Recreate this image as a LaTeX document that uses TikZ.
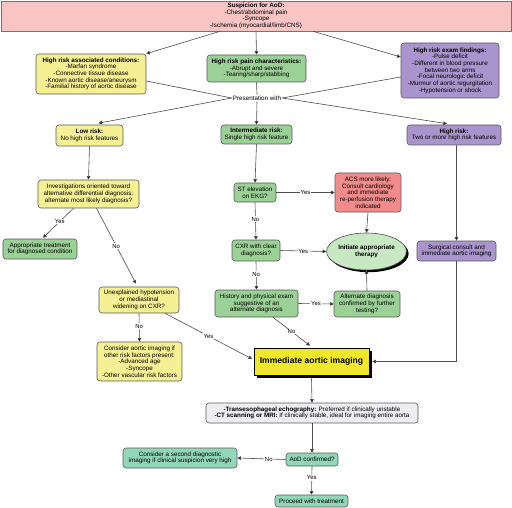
\documentclass[tikz,border=0pt]{standalone}
\usepackage{fontspec}
\setmainfont{Liberation Sans}
\usetikzlibrary{arrows.meta,shapes.geometric,shadows,calc}
\definecolor{cpink}{RGB}{249,196,196}
\definecolor{cyel}{RGB}{245,240,148}
\definecolor{cgrn}{RGB}{155,208,150}
\definecolor{cpur}{RGB}{170,148,205}
\definecolor{cred}{RGB}{242,140,140}
\definecolor{cell}{RGB}{200,232,196}
\definecolor{cimm}{RGB}{240,232,40}
\definecolor{ctee}{RGB}{238,238,242}
\definecolor{cteal}{RGB}{145,214,182}
\begin{document}
\begin{tikzpicture}[x=1bp,y=-1bp,
  every node/.style={font=\fontsize{6.3}{6.7}\selectfont, align=center},
  box/.style={draw=black!65, line width=0.6bp, rounded corners=3bp, inner sep=1bp},
  yel/.style={box, fill=cyel},
  grn/.style={box, fill=cgrn},
  pur/.style={box, fill=cpur},
  teal/.style={box, fill=cteal},
  conn/.style={draw=black!70, line width=0.6bp},
  arr/.style={conn, -{Triangle[length=3.6bp,width=3.6bp,fill=black]}},
  lbl/.style={fill=white, inner sep=0.8bp, font=\fontsize{6}{6.5}\selectfont}
]
\useasboundingbox (0,0) rectangle (512,508);
\node[draw=black!55, line width=0.6bp, fill=cpink, minimum width=510bp, minimum height=30bp, inner sep=0] (top) at (256,16)
  {\textbf{Suspicion for AoD:}\\-Chest/abdominal pain\\-Syncope\\-Ischemia (myocardial/limb/CNS)};
\node[yel, minimum width=110bp, minimum height=40bp] (hrac) at (91,74)
  {\textbf{High risk associated conditions:}\\-Marfan syndrome\\-Connective tissue disease\\-Known aortic disease/aneurysm\\-Familial history of aortic disease};
\node[grn, minimum width=99bp, minimum height=27bp] (hrpc) at (256.5,68.5)
  {\textbf{High risk pain characteristics:}\\-Abrupt and severe\\-Tearing/sharp/stabbing};
\node[pur, minimum width=98bp, minimum height=55bp] (href) at (450,70.5)
  {\textbf{High risk exam findings:}\\-Pulse deficit\\-Different in blood pressure\\between two arms\\-Focal neurologic deficit\\-Murmur of aortic regurgitation\\-Hypotension or shock};
\node[fill=white, inner sep=1bp] (pres) at (257,98) {Presentation with};
\node[yel, minimum width=67bp, minimum height=21bp] (low) at (89.5,135.5) {\textbf{Low risk:}\\No high risk features};
\node[grn, minimum width=71bp, minimum height=19bp] (inter) at (256.5,134.5) {\textbf{Intermediate risk:}\\Single high risk feature};
\node[pur, minimum width=94bp, minimum height=20bp] (high) at (454,135) {\textbf{High risk:}\\Two or more high risk features};
\node[yel, minimum width=101bp, minimum height=28bp] (inv) at (88.5,194)
  {Investigations oriented toward\\alternative differential diagnosis:\\alternate most likely diagnosis?};
\node[grn, minimum width=74bp, minimum height=20bp] (appr) at (40,249) {Appropriate treatment\\for diagnosed condition};
\node[grn, minimum width=42bp, minimum height=19bp] (st) at (255,192.5) {ST elevation\\on EKG?};
\node[box, fill=cred, minimum width=66bp, minimum height=39bp] (acs) at (368,192.5)
  {ACS more likely:\\Consult cardiology\\and immediate\\re-perfusion therapy\\indicated};
\node[grn, minimum width=48bp, minimum height=21bp] (cxr) at (256,250.5) {CXR with clear\\diagnosis?};
\node[ellipse, draw=black!70, line width=0.6bp, fill=cell, minimum width=73bp, minimum height=37bp, inner sep=0,
  drop shadow={fill=black, opacity=1, shadow xshift=2.2bp, shadow yshift=-2.2bp}] (ell) at (366.5,251.5)
  {\textbf{Initiate appropriate}\\\textbf{therapy}};
\node[pur, minimum width=79bp, minimum height=20bp] (surg) at (456.5,251) {Surgical consult and\\immediate aortic imaging};
\node[yel, minimum width=80bp, minimum height=26bp] (unexp) at (139,300) {Unexplained hypotension\\or mediastinal\\widening on CXR?};
\node[yel, minimum width=85bp, minimum height=39bp] (consider) at (139.5,361.5)
  {Consider aortic imaging if\\other risk factors present:\\-Advanced age\\-Syncope\\-Other vascular risk factors};
\node[grn, minimum width=83bp, minimum height=27bp] (hist) at (256.5,303.5) {History and physical exam\\suggestive of an\\alternate diagnosis};
\node[grn, minimum width=66bp, minimum height=26bp] (altd) at (367,304) {Alternate diagnosis\\confirmed by further\\testing?};
\node[draw=black, line width=0.7bp, fill=cimm, minimum width=115bp, minimum height=27bp, inner sep=0,
  font=\fontsize{8.6}{9}\selectfont\bfseries,
  drop shadow={fill=black, opacity=1, shadow xshift=3bp, shadow yshift=-3bp}] (imm) at (311.5,361.5) {Immediate aortic imaging};
\node[box, fill=ctee, minimum width=212bp, minimum height=20bp] (tee) at (312,413)
  {\textbf{-Transesophageal echography:} Preferred if clinically unstable\\\textbf{-CT scanning or MRI:} If clinically stable, ideal for imaging entire aorta};
\node[teal, minimum width=52bp, minimum height=13bp] (aod) at (312,459.5) {AoD confirmed?};
\node[teal, minimum width=114bp, minimum height=20bp] (second) at (180,458) {Consider a second diagnostic\\imaging if clinical suspicion very high};
\node[teal, minimum width=73bp, minimum height=12bp] (proc) at (311.5,501) {Proceed with treatment};
% connectors top
\draw[arr] ([xshift=-36bp]top.south) -- (hrac.north east);
\draw[arr] (top.south) -- (hrpc.north);
\draw[arr] ([xshift=57bp]top.south) -- ([yshift=13.5bp]href.west);
\draw[conn] ([yshift=-7bp]hrac.east) -- (pres.west);
\draw[conn] ([yshift=-6.5bp]href.west) -- (pres.east);
\draw[conn] (hrpc.south) -- (pres.north);
\draw[arr] (pres.west) -- ([xshift=9bp,yshift=1.5bp]low.north);
\draw[arr] (pres.south) -- (inter.north);
\draw[arr] (pres.east) -- ([xshift=-7bp,yshift=1bp]high.north);
% left column
\draw[arr] (low.south) -- (inv.north);
\draw[arr] ([xshift=-15bp]inv.south) -- node[lbl, pos=0.45] {Yes} ([xshift=3bp,yshift=1bp]appr.north);
\draw[arr] ([xshift=8bp]inv.south) -- node[lbl, pos=0.5] {No} ([xshift=-3bp,yshift=3bp]unexp.north);
\draw[arr] (unexp.south) -- node[lbl, pos=0.45] {No} (consider.north);
\draw[arr] ([xshift=26bp]unexp.south) -- node[lbl, pos=0.5] {Yes} ([xshift=-1.5bp,yshift=2.5bp]imm.west);
% middle column
\draw[arr] (inter.south) -- (st.north);
\draw[arr] (st.east) -- node[lbl] {Yes} (acs.west);
\draw[arr] (st.south) -- node[lbl, pos=0.45] {No} (cxr.north);
\draw[arr] (acs.south) -- (ell.north);
\draw[arr] (cxr.east) -- node[lbl, pos=0.5] {Yes} (ell.west);
\draw[arr] (cxr.south) -- node[lbl, pos=0.45] {No} (hist.north);
\draw[arr] (hist.east) -- node[lbl] {Yes} (altd.west);
\draw[arr] (altd.north) -- (ell.south);
\draw[arr] ([xshift=16.5bp]hist.south) -- node[lbl] {No} ([xshift=-1.5bp,yshift=2bp]imm.north);
% right column
\draw[arr] ([xshift=2.5bp]high.south) -- (surg.north);
\draw[arr] (surg.south) |- ([xshift=3bp]imm.east);
% bottom
\draw[arr] ([yshift=-3bp]imm.south) -- (tee.north);
\draw[arr] (tee.south) -- (aod.north);
\draw[arr] (aod.west) -- node[lbl, pos=0.35] {No} (second.east);
\draw[arr] (aod.south) -- node[lbl, pos=0.4] {Yes} (proc.north);
\end{tikzpicture}
\end{document}
